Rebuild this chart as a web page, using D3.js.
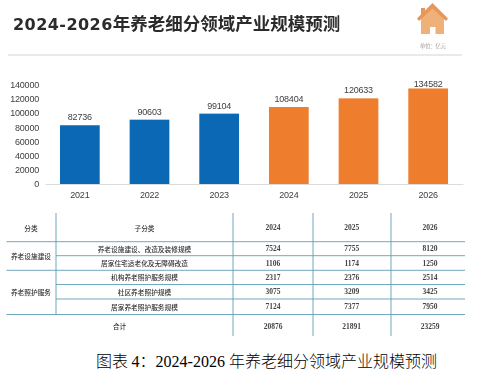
<!DOCTYPE html>
<html>
<head>
<meta charset="utf-8">
<script src="https://cdnjs.cloudflare.com/ajax/libs/d3/7.8.5/d3.min.js"></script>
<style>
  html, body { margin: 0; padding: 0; background: #fff; }
  svg { display: block; }
  #soft { filter: blur(0.35px); }
  .tick text { font-family: "Liberation Sans", sans-serif; font-size: 9px; letter-spacing: -0.2px; fill: #404040; }
  .cell { font-family: "Noto Sans CJK SC", sans-serif; font-size: 6.7px; font-weight: 500; fill: #333; text-anchor: middle; dominant-baseline: central; }
  .num { font-family: "Liberation Serif", serif; font-size: 7.5px; font-weight: 700; fill: #444; text-anchor: middle; dominant-baseline: central; }
</style>
</head>
<body>
<div id="chart"></div>
<script>
// chart data
const years = ["2021", "2022", "2023", "2024", "2025", "2026"];
const totals = [82736, 90603, 99104, 108404, 120633, 134582];
const yTicks = [0, 20000, 40000, 60000, 80000, 100000, 120000, 140000];

// table data
const tableYears = ["2024", "2025", "2026"];
const groups = ["养老设施建设", "养老照护服务"];
const groupSpans = [[1, 2], [3, 5]];
const subCats = ["养老设施建设、改造及装修规模", "居家住宅适老化及无障碍改造", "机构养老照护服务规模", "社区养老照护规模", "居家养老照护服务规模"];
const values2024 = [7524, 1106, 2317, 3075, 7124];
const values2025 = [7755, 1174, 2376, 3209, 7377];
const values2026 = [8120, 1250, 2514, 3425, 7950];
const sums = [20876, 21891, 23259];

const width = 492, height = 371;
const margin = {left: 45, right: 463, top: 84.6, bottom: 184};
const BLUE = "#0a68b4", ORANGE = "#ee7d2e", LINE = "#5f9fb5";

const svg = d3.select("#chart").append("svg")
    .attr("width", width)
    .attr("height", height);
const root = svg.append("g").attr("id", "soft");

/***** HEADER *****/
const title = root.append("text")
    .attr("x", 13).attr("y", 30)
    .attr("fill", "#2b2b2b")
    .style("font-family", '"Noto Sans CJK SC", sans-serif')
    .style("font-weight", 700);
title.append("tspan").text("2024-2026")
    .style("font-family", '"DejaVu Sans", sans-serif')
    .style("font-size", "16px")
    .style("letter-spacing", "0.45px");
title.append("tspan").text("年养老细分领域产业规模预测")
    .style("font-size", "17.5px");

root.append("line")
    .attr("x1", 8).attr("x2", 462).attr("y1", 55).attr("y2", 55)
    .attr("stroke", "#d4d4d4").attr("stroke-width", 1);

// house icon: lighter body under a darker roof
const house = root.append("g").attr("transform", "translate(417,3)");
house.append("path")
    .attr("d", "M15.5 4 L27 15 L27 31 L4 31 L4 15 Z M13 31 L13 24 L18.5 24 L18.5 31 Z")
    .attr("fill-rule", "evenodd")
    .attr("fill", "#f0b07a");
house.append("path")
    .attr("d", "M15.5 0 L31 15.5 L29 18 L15.5 5.5 L2 18 L0 15.5 L4 11.5 L4 5 L8 5 L8 7.5 Z")
    .attr("fill", "#e8975a");
root.append("text")
    .attr("x", 433).attr("y", 45)
    .attr("text-anchor", "middle").attr("dominant-baseline", "central")
    .attr("fill", "#9a9a9a")
    .style("font-family", '"Noto Sans CJK SC", sans-serif')
    .style("font-size", "5.2px")
    .text("单位：亿元");

/***** SCALES *****/
const xScale = d3.scaleBand()
    .domain(years)
    .range([margin.left, margin.right])
    .paddingInner(0.43)
    .paddingOuter(0.215);
const yScale = d3.scaleLinear()
    .domain([0, 140000])
    .range([margin.bottom, margin.top]);

/***** AXES *****/
root.append("g")
    .attr("transform", `translate(${margin.left - 6}, 0)`)
    .call(d3.axisLeft(yScale).tickValues(yTicks).tickSize(0).tickPadding(0).tickFormat(d3.format("d")))
    .call(g => g.select(".domain").remove());

root.append("g")
    .attr("transform", `translate(0, ${margin.bottom})`)
    .call(d3.axisBottom(xScale).tickSize(0).tickPadding(8))
    .call(g => g.select(".domain").attr("stroke", "#dcdcdc"));

/***** BARS *****/
root.selectAll(".bar")
    .data(years)
    .enter().append("rect")
    .attr("class", "bar")
    .attr("x", d => xScale(d))
    .attr("width", xScale.bandwidth())
    .attr("y", (d, i) => yScale(totals[i]))
    .attr("height", (d, i) => yScale(0) - yScale(totals[i]))
    .attr("fill", d => +d < 2024 ? BLUE : ORANGE);

// the tallest label sits closer to its bar, so keep labels below y=87
root.selectAll(".barLabel")
    .data(years)
    .enter().append("text")
    .attr("class", "barLabel")
    .attr("x", d => xScale(d) + xScale.bandwidth() / 2)
    .attr("y", (d, i) => Math.max(yScale(totals[i]) - 5, 87))
    .attr("text-anchor", "middle")
    .attr("fill", "#404040")
    .style("font-family", '"Liberation Sans", sans-serif')
    .style("font-size", "9px")
    .style("letter-spacing", "-0.2px")
    .text((d, i) => totals[i]);

/***** TABLE *****/
const rowLines = [241.7, 255.7, 270.3, 284.5, 299, 314.5];
const rowTop = 213, rowBottom = 336;
const tableLeft = 6.5, tableRight = 465;
const colLines = [56, 233, 313, 391];
const yearCols = [273, 351.7, 430];
const subCol = 144.5, groupCol = 31;
const rowMid = i => (rowLines[i] + rowLines[i + 1]) / 2;

const table = root.append("g");

// lines at index 1, 3, 4 only run from the second column
table.selectAll(".hLine")
    .data(rowLines)
    .enter().append("line")
    .attr("x1", (d, i) => [1, 3, 4].includes(i) ? colLines[0] : tableLeft)
    .attr("x2", tableRight)
    .attr("y1", d => d).attr("y2", d => d)
    .attr("stroke", LINE).attr("stroke-width", 0.9);

table.selectAll(".vLine")
    .data(colLines)
    .enter().append("line")
    .attr("x1", d => d).attr("x2", d => d)
    .attr("y1", rowTop)
    .attr("y2", (d, i) => i === 0 ? rowLines[5] : rowBottom)
    .attr("stroke", LINE).attr("stroke-width", 0.9);

// header row
table.append("text").attr("class", "cell").attr("x", groupCol).attr("y", 227.5).text("分类");
table.append("text").attr("class", "cell").attr("x", subCol).attr("y", 227.5).text("子分类");
table.selectAll(".headYear")
    .data(tableYears)
    .enter().append("text")
    .attr("class", "num headYear")
    .attr("x", (d, i) => yearCols[i]).attr("y", 227.5)
    .text(d => d);

// group column
table.selectAll(".group")
    .data(groups)
    .enter().append("text")
    .attr("class", "cell group")
    .attr("x", groupCol)
    .attr("y", (d, i) => (rowLines[groupSpans[i][0] - 1] + rowLines[groupSpans[i][1]]) / 2)
    .text(d => d);

// sub category rows
table.selectAll(".sub")
    .data(subCats)
    .enter().append("text")
    .attr("class", "cell sub")
    .attr("x", subCol)
    .attr("y", (d, i) => rowMid(i))
    .text(d => d);

[values2024, values2025, values2026].forEach((vals, c) => {
    table.selectAll(".val" + c)
        .data(vals)
        .enter().append("text")
        .attr("class", "num val" + c)
        .attr("x", yearCols[c])
        .attr("y", (d, i) => rowMid(i))
        .text(d => d);
});

// total row
table.append("text").attr("class", "cell").attr("x", 119.5).attr("y", 326).text("合计");
table.selectAll(".sum")
    .data(sums)
    .enter().append("text")
    .attr("class", "num sum")
    .attr("x", (d, i) => yearCols[i]).attr("y", 326)
    .text(d => d);

/***** CAPTION *****/
const caption = svg.append("text")
    .attr("x", 96).attr("y", 367)
    .attr("fill", "#000")
    .style("font-family", '"Noto Sans CJK SC", sans-serif')
    .style("font-weight", 300)
    .style("font-size", "16px");
const serif = '"Liberation Serif", serif';
caption.append("tspan").text("图表 ");
caption.append("tspan").text("4").style("font-family", serif).style("font-weight", 400);
caption.append("tspan").text("：");
caption.append("tspan").text("2024-2026 ").style("font-family", serif).style("font-weight", 400);
caption.append("tspan").text("年养老细分领域产业规模预测");
</script>
</body>
</html>
